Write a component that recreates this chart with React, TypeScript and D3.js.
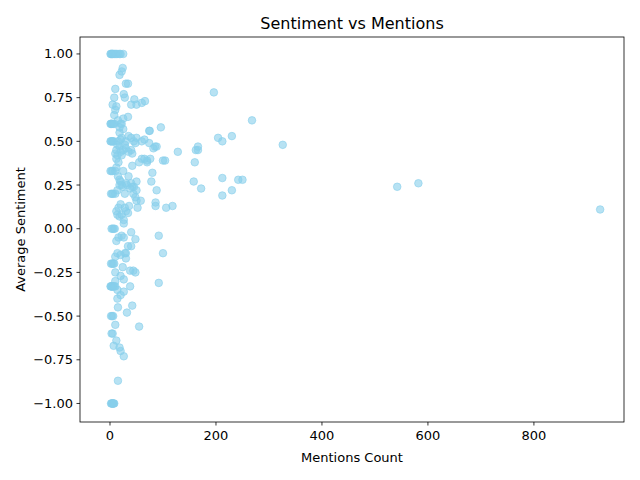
import React from "react";
import * as d3 from "d3";

// [mentions, average sentiment]
const mentions: number[] = [
  1, 2, 3, 4, 5, 6, 8, 10, 12, 15, 18, 20, 25,
  2, 4, 6, 8, 3, 5, 7,
  1, 2, 3, 4, 6, 8,
  1, 2, 4, 5, 7,
  1, 3, 5, 2, 4, 6,
  3, 5, 7, 9,
  2, 4, 6, 8,
  1, 2, 3, 4, 5, 6, 8, 10,
  2, 4, 6, 3, 5, 7,
  5, 8, 10,
  10, 12, 14, 15, 18, 20, 22, 25, 28, 30, 35, 40, 45,
  12, 14, 16, 18, 20, 22, 25, 30, 35, 40, 50, 60, 65,
  10, 12, 15, 18, 22, 25, 30, 35, 40, 45, 50, 55, 60, 70,
  10, 14, 18, 20, 24, 28, 32, 38, 42, 48, 58, 65, 70, 80, 85,
  12, 16, 20, 26, 30, 36, 44, 50, 52, 75, 88, 100,
  14, 18, 22, 28, 34, 42, 50, 78, 86, 118, 158, 172, 212, 230, 242, 250, 212, 542, 582, 925,
  12, 16, 22, 26, 30, 34, 40, 48, 26, 86, 106,
  10, 14, 20, 24, 28, 40, 44, 48, 92, 100,
  10, 14, 20, 26, 32, 38, 42, 92,
  10, 14, 20, 26, 30, 38, 55,
  10, 15, 20, 26,
  12, 18, 15,
  18, 22, 24, 26, 28, 30, 34, 40, 46, 50, 60, 66, 96, 128, 162, 166, 196, 204, 212, 230, 268, 326, 74, 82, 88,
  8, 10, 12, 15, 18, 22, 25, 20, 34, 42, 48, 74, 76, 104, 166, 160,
];
const sentiments: number[] = [
  1, 1, 1, 1, 1, 1, 1, 1, 1, 1, 1, 1, 1,
  -1, -1, -1, -1, -1, -1, -1,
  0.6, 0.6, 0.6, 0.6, 0.6, 0.6,
  0.5, 0.5, 0.5, 0.5, 0.5,
  0.33, 0.33, 0.33, 0.2, 0.2, 0.2,
  0, 0, 0, 0,
  -0.2, -0.2, -0.2, -0.2,
  -0.33, -0.33, -0.33, -0.33, -0.33, -0.33, -0.33, -0.33,
  -0.5, -0.5, -0.5, -0.6, -0.6, -0.67,
  0.71, 0.75, 0.8,
  0.43, 0.45, 0.48, 0.5, 0.47, 0.44, 0.42, 0.45, 0.48, 0.46, 0.44, 0.45, 0.5,
  0.4, 0.42, 0.38, 0.55, 0.6, 0.52, 0.57, 0.5, 0.53, 0.52, 0.52, 0.5, 0.51,
  0.33, 0.35, 0.3, 0.28, 0.25, 0.33, 0.26, 0.3, 0.26, 0.24, 0.27, 0.38, 0.4, 0.38,
  0.2, 0.22, 0.25, 0.27, 0.24, 0.2, 0.25, 0.23, 0.36, 0.18, 0.16, 0.4, 0.39, 0.32, 0.47,
  0.1, 0.12, 0.14, 0.05, 0.1, 0.13, 0.2, 0.16, 0.12, 0.56, 0.22, 0.39,
  0.08, 0.07, 0.08, 0.12, 0.09, 0.24, 0.22, 0.27, 0.15, 0.13, 0.27, 0.23, 0.29, 0.22, 0.28, 0.28, 0.19, 0.24, 0.26, 0.11,
  -0.07, -0.05, -0.04, -0.05, -0.14, -0.1, -0.02, -0.06, 0.03, 0.13, 0.12,
  -0.16, -0.14, -0.15, -0.22, -0.14, -0.1, -0.24, -0.25, -0.04, -0.14,
  -0.3, -0.35, -0.38, -0.36, -0.48, -0.24, -0.44, -0.31,
  -0.25, -0.4, -0.27, -0.29, -0.17, -0.33, -0.56,
  -0.55, -0.45, -0.7, -0.73,
  -0.64, -0.68, -0.87,
  0.88, 0.9, 0.92, 0.77, 0.75, 0.83, 0.83, 0.71, 0.74, 0.71, 0.72, 0.73, 0.58, 0.44, 0.45, 0.47, 0.78, 0.52, 0.5, 0.53, 0.62, 0.48, 0.56, 0.46, 0.47,
  0.65, 0.68, 0.7, 0.62, 0.58, 0.6, 0.63, 0.51, 0.64, 0.43, 0.49, 0.49, 0.4, 0.39, 0.45, 0.38,
];
const xTicks = [0, 200, 400, 600, 800];
const yTicks = [-1, -0.75, -0.5, -0.25, 0, 0.25, 0.5, 0.75, 1];

export default function App() {
  const m = { left: 80, right: 16, top: 37, bottom: 58 };
  const W = 640, H = 480;
  const x = d3.scaleLinear().domain([-56.6, 970]).range([m.left, W - m.right]);
  const y = d3.scaleLinear().domain([-1.106, 1.097]).range([H - m.bottom, m.top]);
  const font = "DejaVu Sans, sans-serif";
  return (
    <svg width={W} height={H} style={{ position: "absolute", left: 0, top: 0 }} fontFamily={font}>
      <rect width={W} height={H} fill="white" />
      {mentions.map((mv, i) => (
        <circle key={i} cx={x(mv)} cy={y(sentiments[i])} r={3.8}
          fill="skyblue" fillOpacity={0.6} stroke="skyblue" strokeOpacity={0.6} />
      ))}
      <rect x={m.left} y={m.top} width={W - m.left - m.right} height={H - m.top - m.bottom}
        fill="none" stroke="black" strokeWidth={0.8} />
      {xTicks.map((t) => (
        <g key={t}>
          <line x1={x(t)} x2={x(t)} y1={H - m.bottom} y2={H - m.bottom + 3.5} stroke="black" strokeWidth={0.8} />
          <text x={x(t)} y={H - m.bottom + 18} fontSize={13} textAnchor="middle">{t}</text>
        </g>
      ))}
      {yTicks.map((t) => (
        <g key={t}>
          <line x1={m.left - 3.5} x2={m.left} y1={y(t)} y2={y(t)} stroke="black" strokeWidth={0.8} />
          <text x={m.left - 7} y={y(t) + 4.5} fontSize={13} textAnchor="end">
            {d3.format(".2f")(t).replace("-", "\u2212")}
          </text>
        </g>
      ))}
      <text x={(m.left + W - m.right) / 2} y={462} fontSize={13} textAnchor="middle">Mentions Count</text>
      <text transform={`translate(25,${(m.top + H - m.bottom) / 2}) rotate(-90)`} fontSize={13} textAnchor="middle">Average Sentiment</text>
      <text x={(m.left + W - m.right) / 2} y={29} fontSize={16} textAnchor="middle">Sentiment vs Mentions</text>
    </svg>
  );
}
